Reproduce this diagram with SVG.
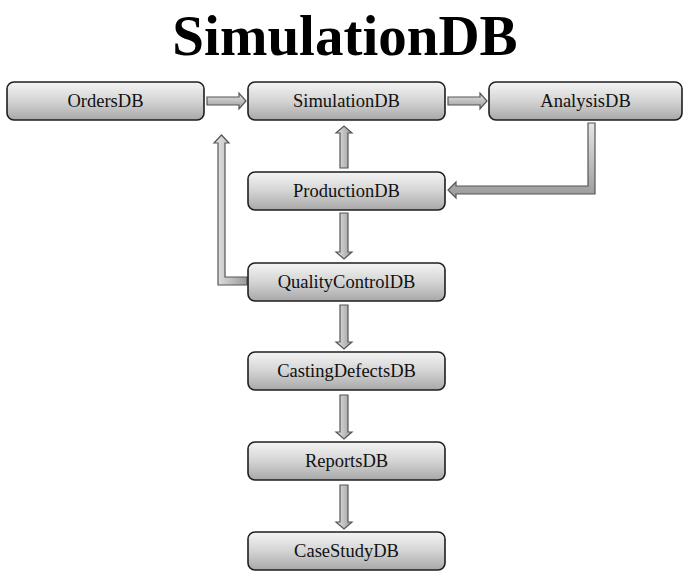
<svg xmlns="http://www.w3.org/2000/svg" width="684" height="571" viewBox="0 0 684 571">
<defs>
<linearGradient id="boxg" x1="0" y1="0" x2="0" y2="1">
<stop offset="0" stop-color="#f4f4f4"/>
<stop offset="0.5" stop-color="#d4d4d4"/>
<stop offset="1" stop-color="#a8a8a8"/>
</linearGradient>
<linearGradient id="arrh" x1="0" y1="0" x2="0" y2="1">
<stop offset="0" stop-color="#e6e6e6"/>
<stop offset="1" stop-color="#9a9a9a"/>
</linearGradient>
<linearGradient id="arrv" x1="0" y1="0" x2="1" y2="0">
<stop offset="0" stop-color="#e6e6e6"/>
<stop offset="1" stop-color="#9a9a9a"/>
</linearGradient>
</defs>
<style>
.box{fill:url(#boxg);stroke:#1e1e1e;stroke-width:1.6}
.lbl{font-family:"Liberation Serif","Times New Roman",serif;font-size:18.5px;fill:#111;text-anchor:middle}
.title{font-family:"Liberation Serif","Times New Roman",serif;font-size:57px;font-weight:bold;fill:#000;text-anchor:middle}
.ah{fill:url(#arrh);stroke:#555;stroke-width:1.2;stroke-linejoin:miter}
.av{fill:url(#arrv);stroke:#555;stroke-width:1.2;stroke-linejoin:miter}
</style>
<rect width="684" height="571" fill="#fff"/>
<text class="title" x="345" y="55">SimulationDB</text>
<g id="connectors">
<polygon class="ah" points="207,97 239,97 239,93 246,101 239,109 239,105 207,105"/>
<polygon class="ah" points="448,97 480,97 480,93 487,101 480,109 480,105 448,105"/>
<polygon class="av" points="340,168 340,133 336,133 344,126 352,133 348,133 348,168"/>
<polygon class="av" points="340,213 348,213 348,252 352,252 344,259 336,252 340,252"/>
<polygon class="av" points="340,305 348,305 348,342 352,342 344,349 336,342 340,342"/>
<polygon class="av" points="340,395 348,395 348,432 352,432 344,439 336,432 340,432"/>
<polygon class="av" points="340,485 348,485 348,522 352,522 344,529 336,522 340,522"/>
<polygon class="av" points="247,277 225,277 225,143 229,143 221.5,135 214,143 218,143 218,285 247,285"/>
<polygon class="ah" points="588,123 595,123 595,194 456,194 456,198 448,190 456,182 456,186 588,186"/>
</g>
<g id="OrdersDB"><rect class="box" x="7" y="82" width="197" height="38" rx="7"/><text class="lbl" x="105.5" y="107">OrdersDB</text></g>
<g id="SimulationDB"><rect class="box" x="248" y="82" width="197" height="38" rx="7"/><text class="lbl" x="346.5" y="107">SimulationDB</text></g>
<g id="AnalysisDB"><rect class="box" x="489" y="82" width="193" height="38" rx="7"/><text class="lbl" x="585.5" y="107">AnalysisDB</text></g>
<g id="ProductionDB"><rect class="box" x="248" y="172" width="197" height="38" rx="7"/><text class="lbl" x="346.5" y="197">ProductionDB</text></g>
<g id="QualityControlDB"><rect class="box" x="248" y="263" width="197" height="38" rx="7"/><text class="lbl" x="346.5" y="288">QualityControlDB</text></g>
<g id="CastingDefectsDB"><rect class="box" x="248" y="352" width="197" height="38" rx="7"/><text class="lbl" x="346.5" y="377">CastingDefectsDB</text></g>
<g id="ReportsDB"><rect class="box" x="248" y="442" width="197" height="38" rx="7"/><text class="lbl" x="346.5" y="467">ReportsDB</text></g>
<g id="CaseStudyDB"><rect class="box" x="248" y="532" width="197" height="38" rx="7"/><text class="lbl" x="346.5" y="557">CaseStudyDB</text></g>
</svg>
